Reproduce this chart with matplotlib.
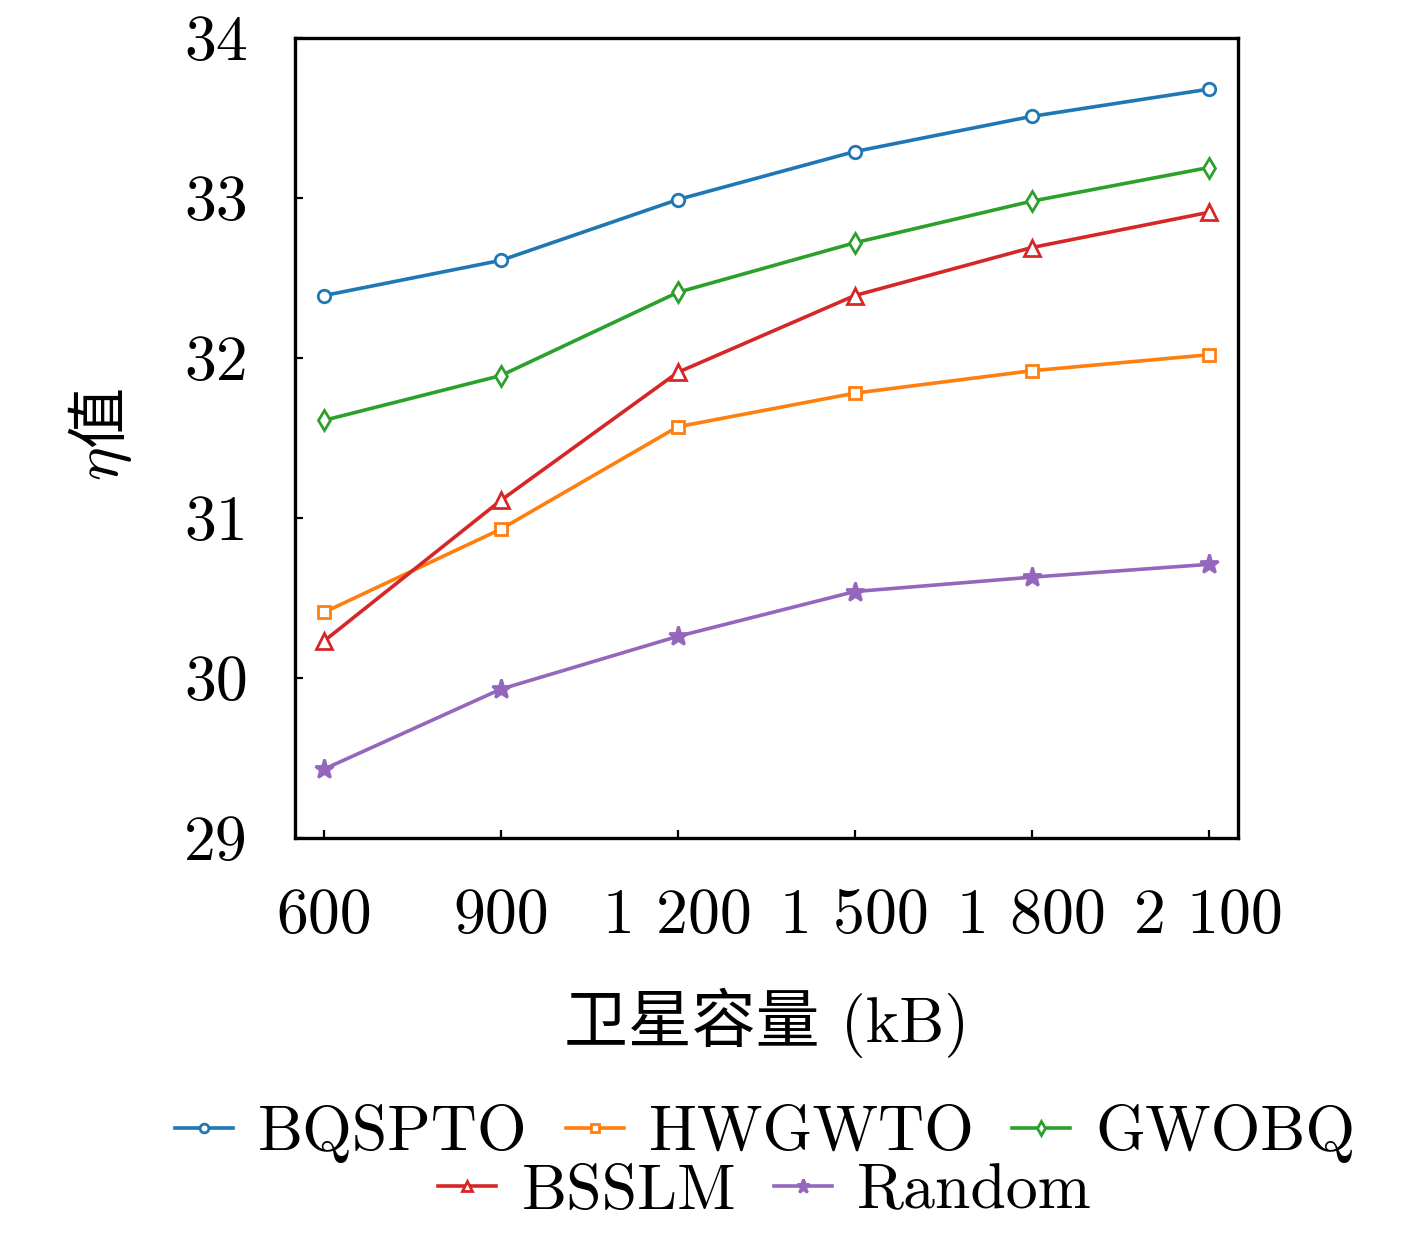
import numpy as np
import matplotlib.pyplot as plt

plt.rcParams['font.family'] = ['cmr10', 'Noto Sans CJK SC']
plt.rcParams['mathtext.fontset'] = 'cm'
plt.rcParams['axes.unicode_minus'] = False

# data
capacity = [600, 900, 1200, 1500, 1800, 2100]
tick_labels = ['600', '900', '1 200', '1 500', '1 800', '2 100']
bqspto = [32.39, 32.61, 32.99, 33.29, 33.51, 33.68]
hwgwto = [30.41, 30.93, 31.57, 31.78, 31.92, 32.02]
gwobq = [31.61, 31.89, 32.41, 32.72, 32.98, 33.19]
bsslm = [30.23, 31.11, 31.91, 32.39, 32.69, 32.91]
random_ = [29.43, 29.93, 30.26, 30.54, 30.63, 30.71]

names = ['BQSPTO', 'HWGWTO', 'GWOBQ', 'BSSLM', 'Random']
series = [bqspto, hwgwto, gwobq, bsslm, random_]
colors = ['#1f77b4', '#ff7f0e', '#2ca02c', '#d62728', '#9467bd']
markers = ['o', 's', 'd', '^', '*']
msizes = [9, 8, 10, 11, 14]

fig = plt.figure(figsize=(14.17, 12.58), dpi=100)
ax = fig.add_axes([0.2082, 0.3339, 0.6655, 0.6359])

handles = []
for name, ys, c, m, ms in zip(names, series, colors, markers, msizes):
    face = c if m == '*' else 'white'
    h, = ax.plot(capacity, ys, color=c, lw=2.6, marker=m, ms=ms,
                 mfc=face, mec=c, mew=2.0, label=name)
    handles.append(h)

ax.set_xlim(551, 2150)
ax.set_ylim(29, 34)
ax.set_xticks(capacity)
ax.set_xticklabels(tick_labels)
ax.set_yticks([29, 30, 31, 32, 33, 34])
ax.tick_params(direction='in', length=6, width=1.6, labelsize=46)
ax.tick_params(axis='y', pad=34)
ax.tick_params(axis='x', pad=36)
for s in ax.spines.values():
    s.set_linewidth(2.4)

ax.set_xlabel('卫星容量 (kB)', fontsize=46, labelpad=30)

# y label: italic eta from mathtext, CJK char as plain text, joined on one baseline
ylab_x, ylab_y = 118 / 1417, 1 - 447 / 1258
fig.text(ylab_x, ylab_y, r'$\eta$', fontsize=46, rotation=90,
         rotation_mode='anchor', ha='right', va='baseline')
fig.text(ylab_x, ylab_y, '值', fontsize=44, rotation=90,
         rotation_mode='anchor', ha='left', va='baseline',
         family='Noto Sans CJK SC')

leg_kw = dict(loc='center', frameon=False, fontsize=46, handlelength=0.9,
              handletextpad=0.4, columnspacing=0.6, markerscale=0.7)
fig.legend(handles[:3], names[:3], ncol=3, bbox_to_anchor=(0.54, 0.099), **leg_kw)
fig.legend(handles[3:], names[3:], ncol=2, bbox_to_anchor=(0.54, 0.052), **leg_kw)

fig.savefig('out.png', dpi=100)
